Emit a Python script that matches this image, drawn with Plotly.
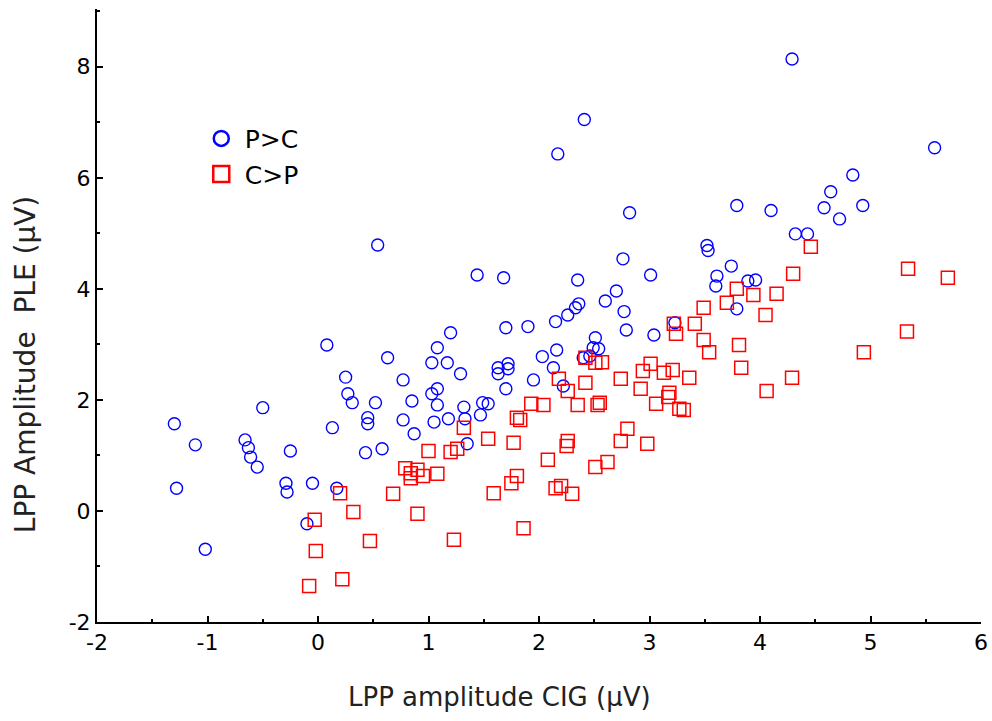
import plotly.graph_objects as go

# P>C group (blue circles)
pc_x = [4.29, 2.41, 2.17, 5.58, 4.84, 4.64, 4.58, 4.93, 4.72, 4.10, 3.79, 2.82, 4.32, 4.43,
        0.54, 3.52, 3.53, 1.44, 1.68, 2.35, 3.01, 2.76, 3.74, 3.61, 3.60, 3.89, 3.96, 2.70,
        2.60, 2.36, 2.33, 2.26, 2.15, 1.90, 1.70, 2.77, 2.79, 3.04, 3.23, 3.79, 1.20, 2.51,
        1.08, 0.63, 0.08, 2.16, 2.03, 2.49, 2.54, 2.46, 2.40, 1.03, 1.17, 1.29, 1.63, 1.72,
        1.63, 1.72, 2.13, 0.77, 1.95, 2.22, 1.08, 1.03, 1.70, 0.25, 0.27, 0.31, 0.52, 0.85,
        1.08, 1.32, 1.49, 1.54, 1.47, 0.45, 0.45, 0.77, 1.05, 1.18, 1.33, 0.87, 1.35, 0.58,
        0.43, -0.50, -1.30, 0.13, -1.11, -0.66, -0.63, -0.25, -0.61, -0.55, -1.28, -0.29,
        -0.28, -0.05, 0.17, -0.10, -1.02]
pc_y = [8.14, 7.05, 6.43, 6.54, 6.05, 5.75, 5.46, 5.50, 5.26, 5.41, 5.50, 5.37, 4.99, 4.99,
        4.79, 4.78, 4.69, 4.25, 4.20, 4.16, 4.25, 4.54, 4.41, 4.23, 4.05, 4.14, 4.16, 3.96,
        3.78, 3.73, 3.66, 3.53, 3.41, 3.32, 3.30, 3.59, 3.26, 3.17, 3.39, 3.64, 3.21, 3.12,
        2.94, 2.76, 2.99, 2.90, 2.78, 2.94, 2.92, 2.79, 2.76, 2.67, 2.67, 2.47, 2.58, 2.65,
        2.47, 2.56, 2.58, 2.36, 2.36, 2.25, 2.20, 2.11, 2.20, 2.41, 2.11, 1.95, 1.95, 1.98,
        1.91, 1.87, 1.95, 1.93, 1.73, 1.68, 1.57, 1.64, 1.60, 1.66, 1.66, 1.39, 1.21, 1.12,
        1.05, 1.86, 1.57, 1.50, 1.19, 1.28, 1.14, 1.08, 0.97, 0.79, 0.41, 0.50,
        0.34, 0.50, 0.41, -0.23, -0.69]

# C>P group (red squares)
cp_x = [0.20, -0.03, 0.32, 0.47, -0.02, -0.08, 0.22, 1.00, 1.20, 1.26, 1.54, 1.77, 2.26, 2.25,
        2.74, 2.98, 0.79, 0.84, 0.90, 0.84, 0.95, 1.08, 0.68, 0.90, 1.23, 1.59, 1.75, 1.80,
        1.86, 2.08, 2.15, 2.20, 2.30, 2.51, 2.62, 1.32, 1.80, 1.83, 1.93, 2.04, 2.18, 2.26,
        2.35, 2.42, 2.53, 2.55, 2.74, 2.92, 2.94, 3.01, 3.13, 3.21, 3.06, 3.17, 3.18, 3.27,
        3.22, 3.24, 2.42, 2.51, 2.57, 2.80, 4.46, 5.34, 5.70, 4.30, 3.79, 3.94, 4.15, 3.70,
        3.49, 4.05, 3.41, 5.33, 3.49, 3.54, 3.81, 4.94, 3.83, 3.36, 4.29, 4.06, 3.31]
cp_y = [0.32, -0.16, -0.02, -0.54, -0.72, -1.35, -1.23, 1.08, 1.06, 1.12, 1.30, 1.23, 1.26, 1.17,
        1.26, 1.21, 0.77, 0.68, 0.74, 0.59, 0.63, 0.67, 0.31, -0.05, -0.52, 0.32, 0.50, 0.63,
        -0.31, 0.92, 0.41, 0.45, 0.31, 0.79, 0.88, 1.50, 1.68, 1.64, 1.93, 1.91, 2.38, 2.16,
        1.91, 2.31, 1.91, 1.95, 2.38, 2.20, 2.52, 2.65, 2.49, 2.54, 1.93, 2.05, 2.13, 1.84,
        3.37, 3.19, 2.76, 2.67, 2.68, 1.48, 4.76, 4.36, 4.20, 4.27, 4.00, 3.89, 3.91, 3.75,
        3.66, 3.53, 3.37, 3.23, 3.08, 2.86, 2.99, 2.86, 2.58, 2.40, 2.40, 2.16, 1.82]

group_names = ["P>C", "C>P"]
x_ticks = [-2, -1, 0, 1, 2, 3, 4, 5, 6]
x_tick_labels = ["-2", "-1", "0", "1", "2", "3", "4", "5", "6"]
y_ticks = [-2, 0, 2, 4, 6, 8]
y_tick_labels = ["-2", "0", "2", "4", "6", "8"]
x_title = "LPP amplitude CIG (μV)"
y_title = "LPP Amplitude\u00a0 PLE (μV)"

BLUE = "rgb(0,0,255)"
RED = "rgb(255,0,0)"
FONT = "DejaVu Sans, Arial, sans-serif"

fig = go.Figure()
fig.add_trace(go.Scatter(x=pc_x, y=pc_y, mode="markers", showlegend=False, name=group_names[0],
                         marker=dict(symbol="circle-open", size=12, color=BLUE,
                                     line=dict(width=1.4, color=BLUE))))
fig.add_trace(go.Scatter(x=cp_x, y=cp_y, mode="markers", showlegend=False, name=group_names[1],
                         marker=dict(symbol="square-open", size=13, color=RED,
                                     line=dict(width=1.5, color=RED))))
# legend entries
fig.add_trace(go.Scatter(x=[None], y=[None], mode="markers", name=group_names[0],
                         marker=dict(symbol="circle-open", size=15, color=BLUE,
                                     line=dict(width=2.5, color=BLUE))))
fig.add_trace(go.Scatter(x=[None], y=[None], mode="markers", name=group_names[1],
                         marker=dict(symbol="square-open", size=16, color=RED,
                                     line=dict(width=2.5, color=RED))))

axis_common = dict(showline=True, linecolor="black", linewidth=2, ticks="inside",
                   ticklen=6, tickwidth=2, tickcolor="black", showgrid=False,
                   zeroline=False, mirror=False, automargin=False,
                   tickfont=dict(family=FONT, size=22, color="black"))

fig.update_xaxes(range=[-2, 6], tickvals=x_ticks, ticktext=x_tick_labels, **axis_common,
                 minor=dict(dtick=0.5, ticks="inside", ticklen=3, tickwidth=2, tickcolor="black"))
fig.update_yaxes(range=[-2, 9.04], tickvals=y_ticks, ticktext=y_tick_labels, **axis_common,
                 minor=dict(dtick=1, ticks="inside", ticklen=3, tickwidth=2, tickcolor="black"))

# axis titles (offset from centre as in the original)
fig.add_annotation(text=x_title, xref="paper", yref="paper", x=0.455, y=0,
                   xanchor="center", yanchor="middle", yshift=-75, showarrow=False,
                   font=dict(family=FONT, size=26, color="#222"))
fig.add_annotation(text=y_title, xref="paper", yref="paper", x=0, y=0.419,
                   xanchor="center", yanchor="middle", xshift=-72, textangle=-90,
                   showarrow=False, font=dict(family=FONT, size=28, color="#222"))

fig.update_layout(width=992, height=721,
                  margin=dict(l=97, r=11, t=9, b=99),
                  plot_bgcolor="white", paper_bgcolor="white",
                  legend=dict(x=0.114, y=0.826, xanchor="left", yanchor="top",
                              bgcolor="rgba(0,0,0,0)", itemwidth=37,
                              font=dict(family=FONT, size=25, color="black"),
                              itemsizing="trace", tracegroupgap=0))

fig.write_html("out.html", config={"displayModeBar": False},
               post_script="document.body.style.margin='0';document.body.style.overflow='hidden';")
